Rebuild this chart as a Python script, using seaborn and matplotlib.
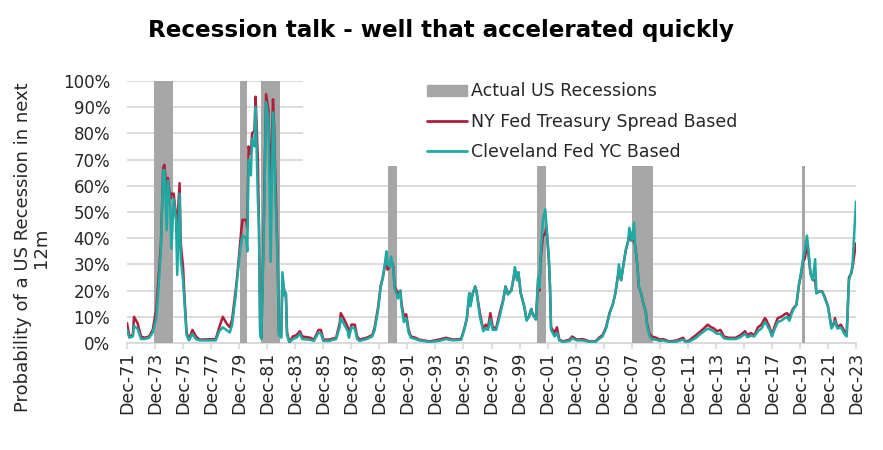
import matplotlib
matplotlib.use("Agg")
import matplotlib.pyplot as plt
import matplotlib.dates as mdates
import matplotlib.ticker as ticker
import matplotlib.patches as mpatches
from matplotlib.lines import Line2D
import numpy as np
import pandas as pd
import seaborn as sns

# months (irregular sampling), probabilities in %
months = [
    "1971-12", "1972-02", "1972-05", "1972-06", "1972-09", "1972-12", "1973-03", "1973-07", "1973-10",
    "1974-01", "1974-03", "1974-05", "1974-07", "1974-08", "1974-10", "1974-11", "1975-01", "1975-02",
    "1975-04", "1975-06", "1975-07", "1975-09", "1975-10", "1975-12", "1976-01", "1976-03", "1976-05",
    "1976-08", "1976-11", "1977-02", "1978-04", "1978-07", "1978-10", "1979-01", "1979-04", "1979-06",
    "1979-09", "1979-10", "1980-01", "1980-02", "1980-03", "1980-06", "1980-07", "1980-08", "1980-10",
    "1980-11", "1981-01", "1981-02", "1981-04", "1981-05", "1981-06", "1981-07", "1981-09", "1981-11",
    "1982-01", "1982-03", "1982-05", "1982-06", "1982-07", "1982-09", "1982-10", "1982-12", "1983-01",
    "1983-03", "1983-04", "1983-05", "1983-07", "1983-10", "1984-01", "1984-04", "1984-06", "1985-01",
    "1985-04", "1985-08", "1985-10", "1985-12", "1986-05", "1986-11", "1987-02", "1987-03", "1987-06",
    "1987-09", "1987-10", "1987-12", "1988-03", "1988-05", "1988-07", "1989-01", "1989-06", "1989-08",
    "1989-11", "1990-01", "1990-03", "1990-05", "1990-06", "1990-07", "1990-09", "1990-10", "1990-12",
    "1991-01", "1991-04", "1991-06", "1991-07", "1991-09", "1991-11", "1992-01", "1992-03", "1992-07",
    "1992-10", "1993-07", "1994-03", "1994-09", "1995-03", "1995-10", "1996-01", "1996-03", "1996-05",
    "1996-06", "1996-08", "1996-10", "1996-11", "1997-02", "1997-05", "1997-07", "1997-09", "1997-11",
    "1998-01", "1998-04", "1998-07", "1998-10", "1998-12", "1999-02", "1999-05", "1999-07", "1999-08",
    "1999-10", "1999-11", "2000-01", "2000-04", "2000-06", "2000-08", "2000-10", "2000-11", "2001-02",
    "2001-04", "2001-05", "2001-06", "2001-08", "2001-10", "2001-11", "2002-01", "2002-02", "2002-03",
    "2002-06", "2002-08", "2002-10", "2003-01", "2003-07", "2003-09", "2004-01", "2004-06", "2004-12",
    "2005-05", "2005-08", "2005-11", "2006-02", "2006-05", "2006-08", "2006-10", "2006-12", "2007-01",
    "2007-03", "2007-05", "2007-07", "2007-09", "2007-10", "2007-12", "2008-02", "2008-03", "2008-05",
    "2008-06", "2008-08", "2008-10", "2008-12", "2009-01", "2009-03", "2009-05", "2009-09", "2009-12",
    "2010-03", "2010-08", "2011-02", "2011-08", "2011-10", "2012-01", "2012-04", "2012-07", "2012-11",
    "2013-02", "2013-05", "2013-08", "2013-10", "2014-01", "2014-04", "2014-07", "2014-11", "2015-05",
    "2015-09", "2016-01", "2016-03", "2016-06", "2016-09", "2016-12", "2017-03", "2017-06", "2017-07",
    "2017-10", "2017-12", "2018-02", "2018-05", "2018-08", "2018-11", "2019-01", "2019-03", "2019-06",
    "2019-09", "2019-11", "2020-01", "2020-03", "2020-04", "2020-06", "2020-07", "2020-09", "2020-11",
    "2021-01", "2021-02", "2021-05", "2021-07", "2021-09", "2021-12", "2022-03", "2022-05", "2022-06",
    "2022-08", "2022-11", "2023-02", "2023-04", "2023-06", "2023-08", "2023-09", "2023-12",
]

ny_fed = [
    7.6, 2.5, 3, 10, 7.6, 2.5, 2, 2.5, 5,
    13, 25, 37, 67, 68, 57, 63, 55, 57,
    57, 48, 45, 61, 38, 29, 19, 4, 1.3,
    5, 2.5, 1.3, 1.5, 6, 10, 7.6, 6, 9,
    20, 24, 39, 44, 47, 47, 44, 75, 72,
    80, 81, 94, 70, 44, 4, 2, 44, 95,
    89, 57, 93, 82, 63, 32, 4, 2.5, 24,
    19, 19, 4, 0.3, 2.5, 3, 4.5, 2.5, 2,
    1.3, 5, 5, 1.3, 1.3, 2, 7.6, 11.4, 9,
    6, 2.5, 7, 7, 2.5, 1.3, 2, 3, 6,
    14, 21.6, 25, 30, 33, 28, 29, 32, 29,
    21.6, 19, 20, 15, 10, 11, 5, 2.5, 2,
    1.3, 0.6, 1.3, 2, 1.3, 1.5, 6, 9.5, 19,
    15, 19, 21.6, 20, 11.4, 5, 7, 6, 11.4,
    6, 5.7, 11.4, 16.5, 21.6, 19, 20, 25, 28,
    24, 27, 19, 14, 9, 10, 13, 11.4, 9,
    25, 20, 32, 40.6, 42, 44, 32, 21.6, 6,
    3.8, 6, 1.3, 0.6, 1.3, 2.5, 1.3, 1.5, 0.6,
    0.6, 2, 3, 6, 11.4, 15, 19, 25, 27,
    24, 30, 35.5, 39, 41, 39, 39, 37, 29,
    21.6, 19, 15, 12, 7.6, 3.8, 2.5, 2, 1.3,
    1.5, 0.6, 0.9, 2, 0.6, 0.9, 2, 3, 4.5,
    5.7, 7, 6, 5.7, 4.5, 5, 2.5, 2, 2,
    3, 4.5, 3, 3.8, 3, 6, 7, 9.5, 9,
    6, 3, 6, 9.5, 10, 11, 11.4, 10, 13,
    14.6, 21.6, 26.6, 32, 32, 37, 35, 26.6, 24,
    24, 19, 19.7, 19.7, 17.8, 14, 6, 7.6, 9.5,
    6, 7, 4.5, 2.8, 25, 26.6, 29, 38,
]

cleveland_fed = [
    5, 2, 2.5, 6.5, 5.5, 1.5, 1.5, 2, 4,
    9.5, 21, 35, 66, 66, 43, 62, 52, 36,
    55, 47, 26, 57, 32, 24, 17, 3, 1,
    3.5, 1.5, 1, 1, 4.5, 6, 5, 4, 7,
    18, 23, 36, 39, 41, 40, 35, 70, 64,
    78, 75, 90, 55, 44, 3, 1.5, 40, 92,
    86, 31, 88, 80, 55, 30, 3, 2, 27,
    18, 19, 3, 0.3, 1.5, 2, 3.5, 1.5, 1.2,
    0.8, 4, 3.5, 0.8, 0.8, 1.5, 6, 9.5, 7,
    4.5, 2, 6, 5.5, 1.5, 0.8, 1.5, 2.5, 5,
    13, 21, 25, 31, 35, 30, 29, 33, 28,
    21, 17, 20, 14, 8, 9.5, 4, 2, 1.5,
    1, 0.4, 0.8, 1.5, 1, 1.2, 5.5, 10, 19,
    14, 19, 21.5, 20, 10, 4.5, 5.5, 5, 9,
    5, 5, 10, 16, 21.5, 18.5, 20, 25, 29,
    24, 27, 19, 14, 8.5, 10, 13, 11, 9,
    25, 21, 33, 47, 51, 45, 33, 22, 5,
    2.5, 4, 1, 0.4, 0.8, 1.8, 1, 1, 0.4,
    0.5, 1.5, 2.5, 5.5, 11, 15, 19, 25, 30,
    24, 30, 35.5, 39, 44, 39, 46, 37, 29,
    22, 19, 15, 12, 7, 3, 1.5, 1.2, 0.8,
    1, 0.4, 0.5, 1.3, 0.4, 0.5, 1.2, 2, 3.5,
    4.5, 5.5, 5, 4.5, 3.5, 3.5, 1.8, 1.5, 1.5,
    2.2, 3.5, 2.2, 2.8, 2.5, 4.5, 5.5, 8, 7.5,
    5, 2.5, 5, 8, 8.5, 9.5, 10, 8.5, 12.5,
    14.5, 22, 27, 33, 35, 41, 37, 26.6, 24,
    32, 19, 19.7, 19.5, 17.5, 14, 5.5, 7, 8.5,
    5.5, 6, 3.5, 2.5, 24, 27, 30, 54,
]

# NBER recessions (start, end)
recessions = [
    ("1973-11", "1975-03"), ("1980-01", "1980-07"), ("1981-07", "1982-11"),
    ("1990-07", "1991-03"), ("2001-03", "2001-11"), ("2007-12", "2009-06"),
    ("2020-02", "2020-04"),
]

ny_label = "NY Fed Treasury Spread Based"
cle_label = "Cleveland Fed YC Based"
rec_label = "Actual US Recessions"

red = "#B01E3C"
teal = "#1FA9A3"
grey_bar = "#A6A6A6"
grid_col = "#D9D9D9"
text_col = "#262626"

df = pd.DataFrame({"date": pd.to_datetime(months), ny_label: ny_fed, cle_label: cleveland_fed})
long_df = df.melt(id_vars="date", var_name="series", value_name="prob")

sns.set_style("white")
plt.rcParams["font.family"] = ["DejaVu Sans"]

fig = plt.figure(figsize=(8.83, 4.5), dpi=100)
ax = fig.add_axes([127 / 883, 1 - 343 / 450, 729 / 883, 262 / 450])

for start, end in recessions:
    ax.axvspan(pd.Timestamp(start), pd.Timestamp(end), color=grey_bar, lw=0, zorder=1)

sns.lineplot(data=long_df, x="date", y="prob", hue="series",
             palette={ny_label: red, cle_label: teal}, linewidth=1.8,
             legend=False, ax=ax, zorder=3)

# white legend area, as in the original, hides grid and bar tops
ax.add_patch(mpatches.Rectangle(((303 - 127) / 729, (343 - 166) / 262), 0.8, 0.4,
                                transform=ax.transAxes, facecolor="white", lw=0,
                                zorder=2, clip_on=False))

ax.set_ylim(0, 100)
ax.set_xlim(pd.Timestamp("1971-12-01"), pd.Timestamp("2023-12-01"))
ax.yaxis.set_major_locator(ticker.MultipleLocator(10))
ax.yaxis.set_major_formatter(ticker.PercentFormatter(decimals=0))
ax.set_xticks(pd.date_range("1971-12-01", "2023-12-01", freq="24MS"))
ax.xaxis.set_major_formatter(mdates.DateFormatter("%b-%y"))
ax.grid(axis="y", color=grid_col, lw=1.3, zorder=0)
ax.set_axisbelow(True)

for s in ["top", "right", "left"]:
    ax.spines[s].set_visible(False)
ax.spines["bottom"].set_color(grid_col)
ax.spines["bottom"].set_linewidth(1.3)
ax.spines["bottom"].set_zorder(0.5)

ax.tick_params(axis="y", length=0, pad=12, labelsize=12, labelcolor=text_col)
ax.tick_params(axis="x", length=4, width=1.2, color=grid_col, pad=2,
               labelsize=12.5, labelcolor=text_col, rotation=90, bottom=True)

ax.set_xlabel("")
ax.set_ylabel("Probability of a US Recession in next\n12m", fontsize=13,
              color=text_col, linespacing=1.0)
ax.yaxis.set_label_coords(-0.105, 0.365)

handles = [
    mpatches.Patch(color=grey_bar, label=rec_label),
    Line2D([0], [0], color=red, lw=2, label=ny_label),
    Line2D([0], [0], color=teal, lw=2, label=cle_label),
]
leg = ax.legend(handles=handles, loc="upper left", bbox_to_anchor=((427 - 127) / 729, 0.995),
                frameon=False, fontsize=12.5, handlelength=2.3, handleheight=0.6,
                handletextpad=0.25, labelspacing=0.72, borderaxespad=0, borderpad=0)
for t in leg.get_texts():
    t.set_color(text_col)

fig.suptitle("Recession talk - well that accelerated quickly", x=0.5, y=1 - 31 / 450,
             va="center", fontsize=16.6, fontweight="bold", color="black")

fig.savefig("out.png", dpi=100)
